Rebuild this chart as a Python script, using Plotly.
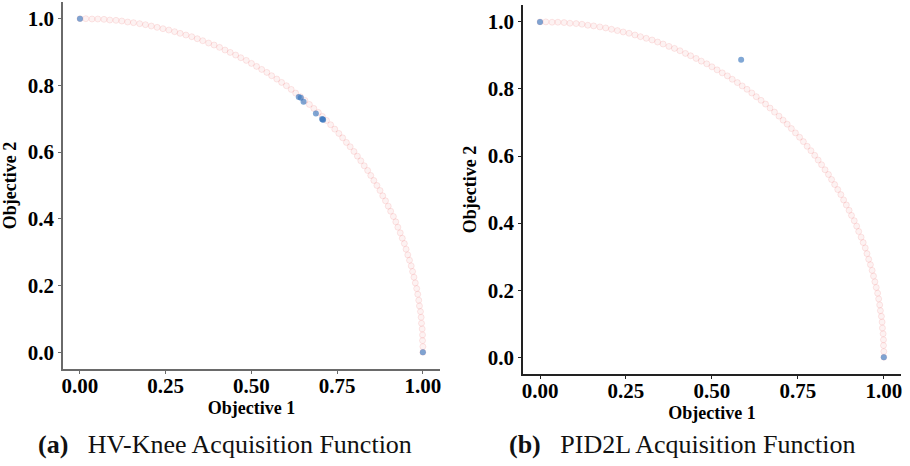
import plotly.graph_objects as go

# Pareto-front samples (Objective 1, Objective 2) along the quarter arc
front_obj1 = [0.000, 0.017, 0.035, 0.052, 0.070, 0.087, 0.105, 0.122, 0.139, 0.156,
              0.174, 0.191, 0.208, 0.225, 0.242, 0.259, 0.276, 0.292, 0.309, 0.326,
              0.342, 0.358, 0.375, 0.391, 0.407, 0.423, 0.438, 0.454, 0.469, 0.485,
              0.500, 0.515, 0.530, 0.545, 0.559, 0.574, 0.588, 0.602, 0.616, 0.629,
              0.643, 0.656, 0.669, 0.682, 0.695, 0.707, 0.719, 0.731, 0.743, 0.755,
              0.766, 0.777, 0.788, 0.799, 0.809, 0.819, 0.829, 0.839, 0.848, 0.857,
              0.866, 0.875, 0.883, 0.891, 0.899, 0.906, 0.914, 0.921, 0.927, 0.934,
              0.940, 0.946, 0.951, 0.956, 0.961, 0.966, 0.970, 0.974, 0.978, 0.982,
              0.985, 0.988, 0.990, 0.993, 0.995, 0.996, 0.998, 0.999, 0.999, 1.000,
              1.000]
front_obj2 = [1.000, 1.000, 0.999, 0.999, 0.998, 0.996, 0.995, 0.993, 0.990, 0.988,
              0.985, 0.982, 0.978, 0.974, 0.970, 0.966, 0.961, 0.956, 0.951, 0.946,
              0.940, 0.934, 0.927, 0.921, 0.914, 0.906, 0.899, 0.891, 0.883, 0.875,
              0.866, 0.857, 0.848, 0.839, 0.829, 0.819, 0.809, 0.799, 0.788, 0.777,
              0.766, 0.755, 0.743, 0.731, 0.719, 0.707, 0.695, 0.682, 0.669, 0.656,
              0.643, 0.629, 0.616, 0.602, 0.588, 0.574, 0.559, 0.545, 0.530, 0.515,
              0.500, 0.485, 0.469, 0.454, 0.438, 0.423, 0.407, 0.391, 0.375, 0.358,
              0.342, 0.326, 0.309, 0.292, 0.276, 0.259, 0.242, 0.225, 0.208, 0.191,
              0.174, 0.156, 0.139, 0.122, 0.105, 0.087, 0.070, 0.052, 0.035, 0.017,
              0.000]

# Points selected by each acquisition function
hvknee_obj1 = [0.000, 1.000, 0.638, 0.644, 0.652, 0.688, 0.706, 0.708, 0.709]
hvknee_obj2 = [1.000, 0.000, 0.765, 0.763, 0.751, 0.716, 0.699, 0.698, 0.697]

pid2l_obj1 = [0.000, 1.000, 0.585]
pid2l_obj2 = [1.000, 0.000, 0.887]

tick_vals_x = [0.0, 0.25, 0.5, 0.75, 1.0]
tick_text_x = ["0.00", "0.25", "0.50", "0.75", "1.00"]
tick_vals_y = [0.0, 0.2, 0.4, 0.6, 0.8, 1.0]
tick_text_y = ["0.0", "0.2", "0.4", "0.6", "0.8", "1.0"]

captions = ["<b>(a)</b>&nbsp;&nbsp;&nbsp;HV-Knee Acquisition Function",
            "<b>(b)</b>&nbsp;&nbsp;&nbsp;PID2L Acquisition Function"]

SERIF = "Liberation Serif, Times New Roman, serif"
front_marker = dict(size=6, color="rgba(240,128,128,0.10)",
                    line=dict(width=1, color="rgba(240,128,128,0.18)"))
pick_marker = dict(size=6, color="rgba(60,120,190,0.65)", line=dict(width=0))

fig = go.Figure()
panels = [("x", "y", hvknee_obj1, hvknee_obj2), ("x2", "y2", pid2l_obj1, pid2l_obj2)]
for xa, ya, px, py in panels:
    fig.add_trace(go.Scatter(x=front_obj1, y=front_obj2, mode="markers",
                             marker=front_marker, xaxis=xa, yaxis=ya, showlegend=False))
    fig.add_trace(go.Scatter(x=px, y=py, mode="markers",
                             marker=pick_marker, xaxis=xa, yaxis=ya, showlegend=False))


def axis_style(domain, anchor, vals, text, title, line_color, is_x):
    return dict(domain=domain, anchor=anchor, range=[-0.05, 1.05],
                tickvals=vals, ticktext=["<b>" + t + "</b>" for t in text],
                showgrid=False, zeroline=False,
                showline=True, linecolor=line_color, linewidth=1.5,
                ticks="outside", ticklen=3, tickwidth=1, tickcolor=line_color,
                ticklabelstandoff=-6 if is_x else 0,
                tickfont=dict(family=SERIF, size=21, color="black"),
                title=dict(text="<b>" + title + "</b>",
                           font=dict(family=SERIF, size=18, color="black"),
                           standoff=0 if is_x else 6))


fig.update_layout(
    width=910, height=466,
    margin=dict(l=0, r=0, t=0, b=0),
    paper_bgcolor="white", plot_bgcolor="white",
    xaxis=axis_style([0.0681, 0.4835], "y", tick_vals_x, tick_text_x, "Objective 1", "#6a6a6a", True),
    yaxis=axis_style([0.2082, 0.9957], "x", tick_vals_y, tick_text_y, "Objective 2", "#6a6a6a", False),
    xaxis2=axis_style([0.5747, 0.9912], "y2", tick_vals_x, tick_text_x, "Objective 1", "#222222", True),
    yaxis2=axis_style([0.1974, 0.9890], "x2", tick_vals_y, tick_text_y, "Objective 2", "#222222", False),
)

for cx, text in zip([224 / 910, 682 / 910], captions):
    fig.add_annotation(x=cx, y=1 - 444 / 466, xref="paper", yref="paper",
                       text=text, showarrow=False, xanchor="center", yanchor="middle",
                       font=dict(family=SERIF, size=26, color="#111111"))

fig.write_html("out.html")
